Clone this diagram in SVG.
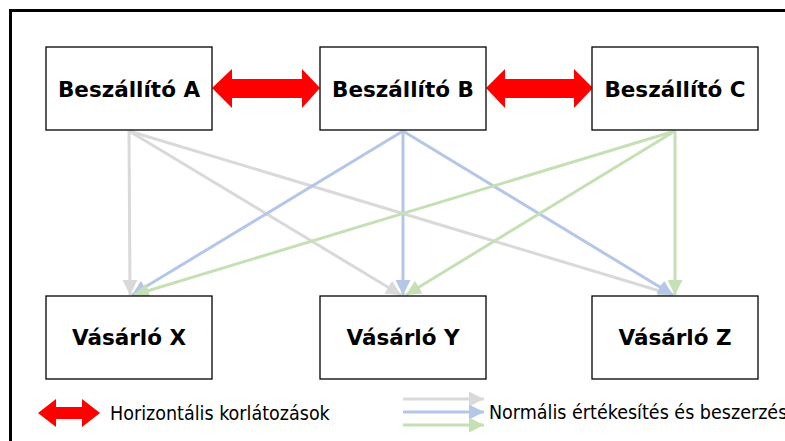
<svg xmlns="http://www.w3.org/2000/svg" width="785" height="441" viewBox="0 0 785 441">
<style>
.box{fill:#fff;stroke:#000;stroke-width:1.3}
.lbl{font-family:"DejaVu Sans","Liberation Sans",sans-serif;font-weight:bold;font-size:21.5px;fill:#000;text-anchor:middle}
.leg{font-family:"DejaVu Sans Condensed","Liberation Sans Narrow","Liberation Sans",sans-serif;font-size:19.5px;fill:#000}
.g{stroke:#d9d9d9;stroke-width:3;fill:none;marker-end:url(#mg)}
.b{stroke:#b4c7e7;stroke-width:3;fill:none;marker-end:url(#mb)}
.gr{stroke:#c5e0b4;stroke-width:3;fill:none;marker-end:url(#mgr)}
.red{fill:#ff0000}
</style>
<defs>
<marker id="mg" viewBox="0 0 10 10" refX="10" refY="5" markerWidth="5" markerHeight="5" orient="auto" markerUnits="strokeWidth"><path d="M0,0L10,5L0,10z" fill="#d9d9d9"/></marker>
<marker id="mb" viewBox="0 0 10 10" refX="10" refY="5" markerWidth="5" markerHeight="5" orient="auto" markerUnits="strokeWidth"><path d="M0,0L10,5L0,10z" fill="#b4c7e7"/></marker>
<marker id="mgr" viewBox="0 0 10 10" refX="10" refY="5" markerWidth="5" markerHeight="5" orient="auto" markerUnits="strokeWidth"><path d="M0,0L10,5L0,10z" fill="#c5e0b4"/></marker>
</defs>
<rect x="0" y="0" width="785" height="441" fill="#fff"/>
<path d="M10.5,460V10.5H800" fill="none" stroke="#000" stroke-width="3"/>
<g id="connectors">
<path class="g" d="M129,131L130,295"/>
<path class="g" d="M129,131L401,295"/>
<path class="g" d="M129,131L673,295"/>
<path class="b" d="M403,131L132,295"/>
<path class="b" d="M403,131L403,295"/>
<path class="b" d="M403,131L673,295"/>
<path class="gr" d="M675,131L134,295"/>
<path class="gr" d="M675,131L406,295"/>
<path class="gr" d="M675,131L675,295"/>
<path id="ab" class="red" d="M212,88L232,69V79H302V69L320,88L302,108V98H232V108z"/>
<path id="bc" class="red" d="M486,88L505,69V79H574V69L593,88L574,108V98H505V108z"/>
</g>
<g id="A"><rect class="box" x="46" y="47" width="166" height="83"/><text class="lbl" x="129" y="97">Beszállító A</text></g>
<g id="B"><rect class="box" x="320" y="47" width="166" height="83"/><text class="lbl" x="403" y="97">Beszállító B</text></g>
<g id="C"><rect class="box" x="592" y="47" width="166" height="83"/><text class="lbl" x="675" y="97">Beszállító C</text></g>
<g id="X"><rect class="box" x="46" y="296" width="166" height="83"/><text class="lbl" x="129" y="345">Vásárló X</text></g>
<g id="Y"><rect class="box" x="320" y="296" width="166" height="83"/><text class="lbl" x="403" y="345">Vásárló Y</text></g>
<g id="Z"><rect class="box" x="592" y="296" width="166" height="83"/><text class="lbl" x="675" y="345">Vásárló Z</text></g>
<g id="legend">
<path class="red" d="M38,413L56,399V407H82V399L100,413L82,427V419H56V427z"/>
<text class="leg" x="110" y="420">Horizontális korlátozások</text>
<path class="g" d="M403,399H484"/>
<path class="b" d="M403,412H484"/>
<path class="gr" d="M403,425H484"/>
<text class="leg" x="489" y="419">Normális értékesítés és beszerzés</text>
</g>
</svg>
